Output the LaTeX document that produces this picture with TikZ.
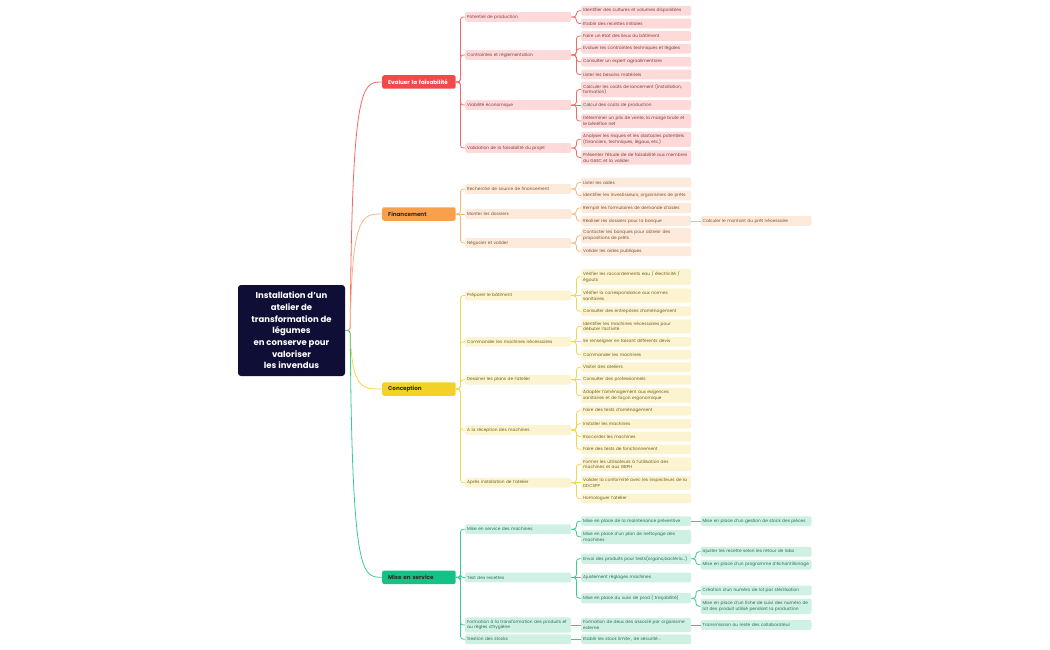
\documentclass[tikz,border=0pt]{standalone}
\usepackage{fontspec}
\setmainfont{Poppins}
\usetikzlibrary{positioning}
\definecolor{rootnavy}{HTML}{0E0E36}
\definecolor{feasred}{HTML}{F14A48}
\definecolor{feaslight}{HTML}{FDD9D9}
\definecolor{feasline}{HTML}{F26A66}
\definecolor{feastext}{HTML}{7A3F3D}
\definecolor{fundorange}{HTML}{F8A04C}
\definecolor{fundlight}{HTML}{FDEADB}
\definecolor{fundline}{HTML}{F9B47A}
\definecolor{fundtext}{HTML}{7A5233}
\definecolor{designyellow}{HTML}{F2D227}
\definecolor{designlight}{HTML}{FCF4D0}
\definecolor{designline}{HTML}{F3D64A}
\definecolor{designtext}{HTML}{6E5F22}
\definecolor{rungreen}{HTML}{14C285}
\definecolor{runlight}{HTML}{CFF1E4}
\definecolor{runline}{HTML}{3ACB95}
\definecolor{runtext}{HTML}{2D6B55}
\definecolor{topicdark}{HTML}{2E2A24}

\begin{document}
\begin{tikzpicture}[x=1pt,y=-1pt,
  every node/.style={font=\fontsize{4.3}{5.7}\selectfont,inner xsep=2pt,inner ysep=2.5pt,
    rounded corners=2pt,anchor=west,align=left},
  topic/.style={text width=61.5pt,minimum height=13.5pt,inner xsep=6pt,
    font=\fontsize{5.6}{7}\selectfont\bfseries},
  sub/.style={text width=102pt,minimum height=9.8pt},
  leaf/.style={text width=106pt,minimum height=9.8pt},
  far/.style={text width=107pt,minimum height=9.8pt},
  feas/.style={fill=feaslight,text=feastext},
  fund/.style={fill=fundlight,text=fundtext},
  design/.style={fill=designlight,text=designtext},
  run/.style={fill=runlight,text=runtext},
  link/.style={line width=.8pt,rounded corners=3pt},
  feasl/.style={link,draw=feasline},
  fundl/.style={link,draw=fundline},
  designl/.style={link,draw=designline},
  runl/.style={link,draw=runline}]
  \useasboundingbox (0,0) rectangle (1050,650);

  % central topic
  \node[anchor=center,fill=rootnavy,text=white,rounded corners=3pt,align=center,
    minimum width=107pt,minimum height=91pt,font=\fontsize{8.5}{11.7}\selectfont\bfseries]
    (root) at (291.5,330.5) {Installation d'un\\atelier de\\transformation de\\légumes\\en conserve pour\\valoriser\\les invendus};

  % main topics
  \node[topic,fill=feasred,text=white] (fa) at (382,82) {Evaluer la faisabilité};
  \node[topic,fill=fundorange,text=topicdark] (fi) at (382,214) {Financement};
  \node[topic,fill=designyellow,text=topicdark] (co) at (382,389) {Conception};
  \node[topic,fill=rungreen,text=topicdark] (ms) at (382,577.3) {Mise en service};

  \draw[feasl] (root.east) -- ++(5,0) .. controls (352,82) and (362,82) .. (fa.west);
  \draw[fundl] (root.east) -- ++(5,0) .. controls (352,214) and (362,214) .. (fi.west);
  \draw[designl] (root.east) -- ++(5,0) .. controls (352,389) and (362,389) .. (co.west);
  \draw[runl] (root.east) -- ++(5,0) .. controls (352,577.3) and (362,577.3) .. (ms.west);

  % Evaluer la faisabilite
  \node[sub,feas] (fa1) at (465,17) {Potentiel de production};
  \node[leaf,feas] (fa1a) at (581,10.7) {Identifier des cultures et volumes disponibles};
  \node[leaf,feas] (fa1b) at (581,23.5) {Etablir des recettes initiales};
  \node[sub,feas] (fa2) at (465,55) {Contraintes et réglementation};
  \node[leaf,feas] (fa2a) at (581,36) {Faire un état des lieux du bâtiment};
  \node[leaf,feas] (fa2b) at (581,48.7) {Evaluer les contraintes techniques et légales};
  \node[leaf,feas] (fa2c) at (581,61.7) {Consulter un expert agroalimentaire};
  \node[leaf,feas] (fa2d) at (581,74.5) {Lister les besoins matériels};
  \node[sub,feas] (fa3) at (465,105) {Viabilité économique};
  \node[leaf,feas] (fa3a) at (581,89.5) {Calculer les coûts de lancement (installation,\\formation)};
  \node[leaf,feas] (fa3b) at (581,105) {Calcul des coûts de production};
  \node[leaf,feas] (fa3c) at (581,121) {Déterminer un prix de vente, la marge brute et\\le bénéfice net};
  \node[sub,feas] (fa4) at (465,148) {Validation de la faisabilité du projet};
  \node[leaf,feas] (fa4a) at (581,139.3) {Analyser les risques et les obstacles potentiels\\(financiers, techniques, légaux, etc.)};
  \node[leaf,feas] (fa4b) at (581,157.5) {Présenter l'étude de de faisabilité aux membres\\du GAEC et la valider};

  \draw[feasl] (fa.east) -- ++(4.5,0) |- (fa1.west);
  \draw[feasl] (fa.east) -- ++(4.5,0) |- (fa2.west);
  \draw[feasl] (fa.east) -- ++(4.5,0) |- (fa3.west);
  \draw[feasl] (fa.east) -- ++(4.5,0) |- (fa4.west);
  \draw[feasl] (fa1.east) -- ++(5,0) |- (fa1a.west);
  \draw[feasl] (fa1.east) -- ++(5,0) |- (fa1b.west);
  \draw[feasl] (fa2.east) -- ++(5,0) |- (fa2a.west);
  \draw[feasl] (fa2.east) -- ++(5,0) |- (fa2b.west);
  \draw[feasl] (fa2.east) -- ++(5,0) |- (fa2c.west);
  \draw[feasl] (fa2.east) -- ++(5,0) |- (fa2d.west);
  \draw[feasl] (fa3.east) -- ++(5,0) |- (fa3a.west);
  \draw[feasl] (fa3.east) -- (fa3b.west);
  \draw[feasl] (fa3.east) -- ++(5,0) |- (fa3c.west);
  \draw[feasl] (fa4.east) -- ++(5,0) |- (fa4a.west);
  \draw[feasl] (fa4.east) -- ++(5,0) |- (fa4b.west);

  % Financement
  \node[sub,fund] (fi1) at (465,189) {Recherche de source de financement};
  \node[leaf,fund] (fi1a) at (581,182.5) {Lister les aides};
  \node[leaf,fund] (fi1b) at (581,195.5) {Identifier les investisseurs, organismes de prêts};
  \node[sub,fund] (fi2) at (465,214) {Monter les dossiers};
  \node[leaf,fund] (fi2a) at (581,208) {Remplir les formulaires de demande d'aides};
  \node[leaf,fund] (fi2b) at (581,221) {Réaliser les dossiers pour la banque};
  \node[far,fund] (fi2b1) at (700.5,221) {Calculer le montant du prêt nécessaire};
  \node[sub,fund] (fi3) at (465,243) {Négocier et valider};
  \node[leaf,fund] (fi3a) at (581,235.7) {Contacter les banques pour obtenir des\\propositions de prêts};
  \node[leaf,fund] (fi3b) at (581,251.3) {Valider les aides publiques};

  \draw[fundl] (fi.east) -- ++(4.5,0) |- (fi1.west);
  \draw[fundl] (fi.east) -- (fi2.west);
  \draw[fundl] (fi.east) -- ++(4.5,0) |- (fi3.west);
  \draw[fundl] (fi1.east) -- ++(5,0) |- (fi1a.west);
  \draw[fundl] (fi1.east) -- ++(5,0) |- (fi1b.west);
  \draw[fundl] (fi2.east) -- ++(5,0) |- (fi2a.west);
  \draw[fundl] (fi2.east) -- ++(5,0) |- (fi2b.west);
  \draw[fundl] (fi2b.east) -- (fi2b1.west);
  \draw[fundl] (fi3.east) -- ++(5,0) |- (fi3a.west);
  \draw[fundl] (fi3.east) -- ++(5,0) |- (fi3b.west);

  % Conception
  \node[sub,design] (co1) at (465,295.5) {Préparer le bâtiment};
  \node[leaf,design] (co1a) at (581,276.8) {Vérifier les raccordements eau / électricité /\\égouts};
  \node[leaf,design] (co1b) at (581,295.5) {Vérifier la correspondance aux normes\\sanitaires};
  \node[leaf,design] (co1c) at (581,311.2) {Consulter des entreprises d'aménagement};
  \node[sub,design] (co2) at (465,341.7) {Commander les machines nécessaires};
  \node[leaf,design] (co2a) at (581,326.3) {Identifier les machines nécessaires pour\\débuter l'activité};
  \node[leaf,design] (co2b) at (581,341.7) {Se renseigner en faisant différents devis};
  \node[leaf,design] (co2c) at (581,354.8) {Commander les machines};
  \node[sub,design] (co3) at (465,379.8) {Dessiner les plans de l'atelier};
  \node[leaf,design] (co3a) at (581,367.2) {Visiter des ateliers};
  \node[leaf,design] (co3b) at (581,379.8) {Consulter des professionnels};
  \node[leaf,design] (co3c) at (581,395.5) {Adapter l'aménagement aux exigences\\sanitaires et de façon ergonomique};
  \node[sub,design] (co4) at (465,430) {A la réception des machines};
  \node[leaf,design] (co4a) at (581,410.7) {Faire des tests d'aménagement};
  \node[leaf,design] (co4b) at (581,423.8) {Installer les machines};
  \node[leaf,design] (co4c) at (581,436.5) {Raccorder les machines};
  \node[leaf,design] (co4d) at (581,449.3) {Faire des tests de fonctionnement};
  \node[sub,design] (co5) at (465,482.8) {Après installation de l'atelier};
  \node[leaf,design] (co5a) at (581,464.3) {Former les utilisateurs à l'utilisation des\\machines et aux GBPH};
  \node[leaf,design] (co5b) at (581,482.8) {Valider la conformité avec les inspecteurs de la\\DDCSPP};
  \node[leaf,design] (co5c) at (581,498.5) {Homologuer l'atelier};

  \draw[designl] (co.east) -- ++(4.5,0) |- (co1.west);
  \draw[designl] (co.east) -- ++(4.5,0) |- (co2.west);
  \draw[designl] (co.east) -- ++(4.5,0) |- (co3.west);
  \draw[designl] (co.east) -- ++(4.5,0) |- (co4.west);
  \draw[designl] (co.east) -- ++(4.5,0) |- (co5.west);
  \draw[designl] (co1.east) -- ++(5,0) |- (co1a.west);
  \draw[designl] (co1.east) -- (co1b.west);
  \draw[designl] (co1.east) -- ++(5,0) |- (co1c.west);
  \draw[designl] (co2.east) -- ++(5,0) |- (co2a.west);
  \draw[designl] (co2.east) -- (co2b.west);
  \draw[designl] (co2.east) -- ++(5,0) |- (co2c.west);
  \draw[designl] (co3.east) -- ++(5,0) |- (co3a.west);
  \draw[designl] (co3.east) -- (co3b.west);
  \draw[designl] (co3.east) -- ++(5,0) |- (co3c.west);
  \draw[designl] (co4.east) -- ++(5,0) |- (co4a.west);
  \draw[designl] (co4.east) -- ++(5,0) |- (co4b.west);
  \draw[designl] (co4.east) -- ++(5,0) |- (co4c.west);
  \draw[designl] (co4.east) -- ++(5,0) |- (co4d.west);
  \draw[designl] (co5.east) -- ++(5,0) |- (co5a.west);
  \draw[designl] (co5.east) -- (co5b.west);
  \draw[designl] (co5.east) -- ++(5,0) |- (co5c.west);

  % Mise en service
  \node[sub,run] (ms1) at (465,529.2) {Mise en service des machines};
  \node[leaf,run] (ms1a) at (581,521.2) {Mise en place de la maintenance préventive};
  \node[far,run] (ms1a1) at (700.5,521.2) {Mise en place d'un gestion de stock des pièces};
  \node[leaf,run] (ms1b) at (581,536.8) {Mise en place d'un plan de nettoyage des\\machines};
  \node[sub,run] (ms2) at (465,577.5) {Test des recettes};
  \node[leaf,run] (ms2a) at (581,558.7) {Envoi des produits pour tests(organo,bactério...)};
  \node[far,run] (ms2a1) at (700.5,551.8) {ajuster les recette selon les retour de labo};
  \node[far,run] (ms2a2) at (700.5,564.8) {Mise en place d'un programme d'échantillonage};
  \node[leaf,run] (ms2b) at (581,577.5) {Ajustement réglages machines};
  \node[leaf,run] (ms2c) at (581,598.3) {Mise en place du suivi de prod ( traçabilité)};
  \node[far,run] (ms2c1) at (700.5,590.5) {Création d'un numéro de lot par stérilisation};
  \node[far,run] (ms2c2) at (700.5,606.2) {Mise en place d'un fiche de suivi des numéro de\\lot des produit utilisé pendant la production};
  \node[sub,run] (ms3) at (465,625) {Formation à la transformation des produits et\\au règles d'hygiène};
  \node[leaf,run] (ms3a) at (581,625) {Formation de deux des associé par organisme\\externe};
  \node[far,run] (ms3a1) at (700.5,625) {Transmission au reste des collaborateur};
  \node[sub,run] (ms4) at (465,639.2) {Gestion des stocks};
  \node[leaf,run] (ms4a) at (581,639.2) {Etablir les stock limite , de sécurité ..};

  \draw[runl] (ms.east) -- ++(4.5,0) |- (ms1.west);
  \draw[runl] (ms.east) -- ++(4.5,0) |- (ms2.west);
  \draw[runl] (ms.east) -- ++(4.5,0) |- (ms3.west);
  \draw[runl] (ms.east) -- ++(4.5,0) |- (ms4.west);
  \draw[runl] (ms1.east) -- ++(5,0) |- (ms1a.west);
  \draw[runl] (ms1.east) -- ++(5,0) |- (ms1b.west);
  \draw[runl] (ms1a.east) -- (ms1a1.west);
  \draw[runl] (ms2.east) -- ++(5,0) |- (ms2a.west);
  \draw[runl] (ms2.east) -- (ms2b.west);
  \draw[runl] (ms2.east) -- ++(5,0) |- (ms2c.west);
  \draw[runl] (ms2a.east) -- ++(4.5,0) |- (ms2a1.west);
  \draw[runl] (ms2a.east) -- ++(4.5,0) |- (ms2a2.west);
  \draw[runl] (ms2c.east) -- ++(4.5,0) |- (ms2c1.west);
  \draw[runl] (ms2c.east) -- ++(4.5,0) |- (ms2c2.west);
  \draw[runl] (ms3.east) -- (ms3a.west);
  \draw[runl] (ms3a.east) -- (ms3a1.west);
  \draw[runl] (ms4.east) -- (ms4a.west);
\end{tikzpicture}
\end{document}
